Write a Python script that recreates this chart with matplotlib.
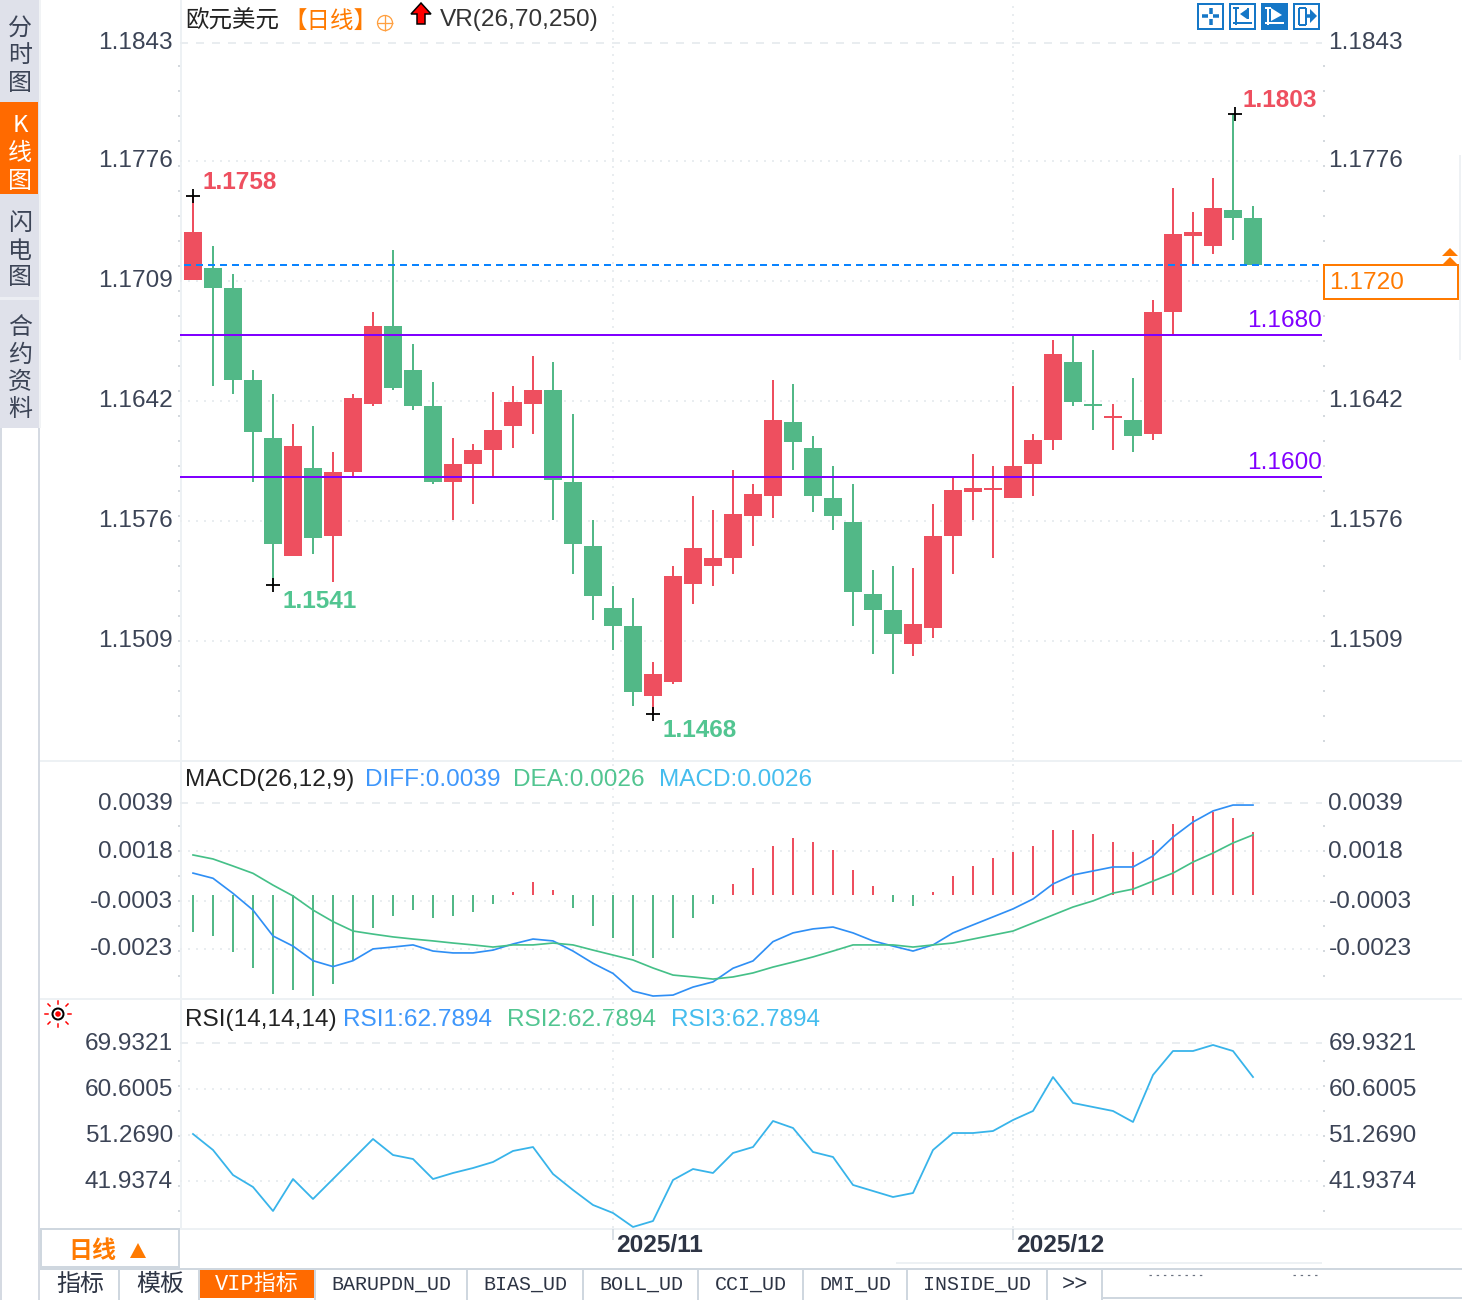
import matplotlib
matplotlib.use("Agg")
import matplotlib.pyplot as plt
from matplotlib.patches import Rectangle, Circle, Polygon
from matplotlib.transforms import ScaledTranslation

# ---------- data ----------
opens = [1.17106,1.17173,1.17061,1.16547,1.16223,1.15564,1.16055,1.15676,1.16033,1.16413,1.16849,1.16603,1.16402,1.15977,
         1.16077,1.16156,1.16290,1.16413,1.16491,1.15977,1.15620,1.15273,1.15173,1.14782,1.14860,1.15408,1.15508,1.15553,
         1.15788,1.15899,1.16312,1.16167,1.15888,1.15754,1.15352,1.15262,1.15072,1.15161,1.15676,1.15922,1.15933,1.15888,
         1.16077,1.16212,1.16648,1.16413,1.16335,1.16323,1.16245,1.16927,1.17352,1.17296,1.17497,1.17452]
closes = [1.17374,1.17061,1.16547,1.16256,1.15631,1.16178,1.15665,1.16033,1.16446,1.16849,1.16502,1.16402,1.15977,1.16077,
          1.16156,1.16268,1.16424,1.16491,1.15988,1.15631,1.15341,1.15173,1.14804,1.14905,1.15452,1.15609,1.15553,1.15799,
          1.15911,1.16323,1.16200,1.15899,1.15788,1.15363,1.15262,1.15128,1.15184,1.15676,1.15933,1.15944,1.15944,1.16066,
          1.16212,1.16692,1.16424,1.16402,1.16346,1.16234,1.16927,1.17363,1.17374,1.17508,1.17452,1.17190]
highs = [1.17575,1.17296,1.17140,1.16603,1.16469,1.16301,1.16290,1.16144,1.16469,1.16927,1.17274,1.16748,1.16536,1.16223,
         1.16189,1.16480,1.16514,1.16681,1.16648,1.16357,1.15765,1.15397,1.15330,1.14972,1.15508,1.15899,1.15821,1.16044,
         1.15966,1.16547,1.16525,1.16234,1.16066,1.15966,1.15486,1.15508,1.15497,1.15855,1.16005,1.16133,1.16066,1.16514,
         1.16245,1.16771,1.16793,1.16715,1.16413,1.16558,1.16994,1.17620,1.17486,1.17676,1.18033,1.17520]
lows = [1.17106,1.16514,1.16469,1.15977,1.15402,1.15564,1.15575,1.15419,1.16010,1.16402,1.16491,1.16379,1.15966,1.15765,
        1.15855,1.16005,1.16167,1.16245,1.15765,1.15464,1.15206,1.15039,1.14725,1.14681,1.14849,1.15296,1.15397,1.15464,
        1.15620,1.15776,1.16044,1.15810,1.15709,1.15173,1.15016,1.14905,1.15005,1.15106,1.15464,1.15765,1.15553,1.15888,
        1.15899,1.16156,1.16402,1.16268,1.16156,1.16144,1.16212,1.16804,1.17190,1.17251,1.17329,1.17190]
macd = [-0.00157,-0.00174,-0.00242,-0.00310,-0.00420,-0.00403,-0.00429,-0.00378,-0.00276,-0.00140,-0.00089,-0.00064,-0.00098,
        -0.00089,-0.00072,-0.00038,0.00013,0.00055,0.00021,-0.00055,-0.00132,-0.00183,-0.00259,-0.00268,-0.00183,-0.00098,
        -0.00038,0.00047,0.00115,0.00208,0.00242,0.00225,0.00191,0.00106,0.00038,-0.00030,-0.00047,0.00013,0.00081,0.00123,
        0.00157,0.00183,0.00208,0.00276,0.00276,0.00259,0.00225,0.00183,0.00234,0.00302,0.00336,0.00353,0.00327,0.00268]
diff = [0.00093,0.00071,0.00007,-0.00064,-0.00174,-0.00217,-0.00279,-0.00304,-0.00279,-0.00229,-0.00221,-0.00212,-0.00238,
        -0.00246,-0.00246,-0.00234,-0.00208,-0.00187,-0.00195,-0.00238,-0.00290,-0.00333,-0.00408,-0.00429,-0.00425,-0.00391,
        -0.00369,-0.00311,-0.00280,-0.00198,-0.00161,-0.00144,-0.00136,-0.00161,-0.00195,-0.00217,-0.00238,-0.00212,-0.00161,
        -0.00127,-0.00093,-0.00059,-0.00017,0.00047,0.00085,0.00102,0.00119,0.00119,0.00166,0.00246,0.00310,0.00357,0.00382,0.00382]
dea = [0.00170,0.00153,0.00123,0.00092,0.00042,-0.00004,-0.00064,-0.00113,-0.00153,-0.00166,-0.00178,-0.00187,-0.00195,-0.00204,
       -0.00212,-0.00221,-0.00212,-0.00212,-0.00204,-0.00212,-0.00234,-0.00255,-0.00276,-0.00310,-0.00340,-0.00348,-0.00357,
       -0.00348,-0.00331,-0.00306,-0.00285,-0.00263,-0.00238,-0.00212,-0.00212,-0.00212,-0.00221,-0.00212,-0.00204,-0.00187,
       -0.00170,-0.00153,-0.00119,-0.00085,-0.00051,-0.00025,0.00008,0.00025,0.00059,0.00093,0.00140,0.00178,0.00221,0.00255]
rsi = [51.47,48.23,43.15,40.72,35.85,42.34,38.29,42.34,46.40,50.46,47.21,46.40,42.34,43.56,44.57,45.79,48.03,48.83,43.36,40.11,
       37.07,35.45,32.61,33.82,42.14,44.37,43.56,47.62,48.83,54.11,52.69,47.82,46.81,41.13,39.91,38.69,39.50,48.23,51.67,51.67,
       52.08,54.31,56.14,63.03,57.76,56.95,56.14,53.91,63.44,68.31,68.31,69.53,68.31,63.03]
price_ticks = [1.18432,1.17772,1.1710,1.1643,1.1576,1.1509]
price_labels = ["1.1843","1.1776","1.1709","1.1642","1.1576","1.1509"]
macd_ticks = [0.0039,0.00186,-0.00026,-0.00229]
macd_labels = ["0.0039","0.0018","-0.0003","-0.0023"]
rsi_ticks = [69.9321,60.6005,51.2690,41.9374]
rsi_labels = ["69.9321","60.6005","51.2690","41.9374"]
levels = [1.1680,1.16004]
last_price = 1.1719
month_idx = [21,41]
month_labels = ["2025/11","2025/12"]
extremes = [(0,1.17575,"1.1758",0),(4,1.15402,"1.1541",1),(23,1.14681,"1.1468",1),(52,1.18033,"1.1803",0)]
tabs = [("指标",80),("模板",160),("BARUPDN_UD",391),("BIAS_UD",525),("BOLL_UD",641),("CCI_UD",751),("DMI_UD",855),("INSIDE_UD",977)]

# ---------- style ----------
W,H = 1462,1300
px = 0.72
SANS = ['Liberation Sans','Noto Sans CJK SC','DejaVu Sans']
CJK = ['Noto Sans CJK SC','DejaVu Sans']
MONO = ['Liberation Mono','Noto Sans CJK SC']
plt.rcParams['font.family'] = SANS
RED,GREEN = '#ee4f5f','#52b887'
GRID,SEP,LABEL = '#e9edf0','#cfd7df','#3c4456'
ORANGE,PURPLE = '#ff7a00','#8000ff'
BLUE,LGREEN,LBLUE = '#3f97fb','#52c591','#45bdee'
FS = 24.4*px

fig = plt.figure(figsize=(W/100,H/100),dpi=100,facecolor='white')
bg = fig.add_axes([0,0,1,1],zorder=0)
bg.set_xlim(0,W); bg.set_ylim(H,0); bg.axis('off')
top = fig.add_axes([0,0,1,1],zorder=5)
top.set_xlim(0,W); top.set_ylim(H,0); top.axis('off'); top.patch.set_alpha(0)

def rect(x0,y0,x1,y1,fc='none',ec='none',lw=0,z=1):
    bg.add_patch(Rectangle((x0,y0),x1-x0,y1-y0,fc=fc,ec=ec,lw=lw*px,zorder=z))
def T(x,y,s,c=LABEL,ha='left',fs=FS,fam=SANS,w='normal',z=5,a=None):
    (a or bg).text(x,y+2,s,color=c,ha=ha,va='center',fontsize=fs,family=fam,fontweight=w,zorder=z)
def L(xs,ys,c,lw=2,**k):
    bg.plot(xs,ys,color=c,lw=lw*px,solid_capstyle='butt',**k)

def panel(y0,y1,ylim):
    a = fig.add_axes([180/W,1-y1/H,(1322-180)/W,(y1-y0)/H],zorder=2)
    a.patch.set_alpha(0)
    a.set_xlim((180-193)/20,(1322-193)/20)
    a.set_ylim(*ylim)
    for s in a.spines.values(): s.set_visible(False)
    a.set_xticks(month_idx); a.set_xticklabels([])
    a.tick_params(axis='x',length=0)
    a.tick_params(axis='y',length=0,left=False,right=False,labelleft=True,labelright=True,
                  labelsize=FS,labelcolor=LABEL,pad=5)
    a.grid(True,color=GRID,lw=2*px,ls=(0,(1,3)))
    a.set_axisbelow(True)
    return a

def finish_y(a,ticks,labels):
    a.set_yticks(ticks); a.set_yticklabels(labels)
    a.get_ygridlines()[0].set_linestyle((0,(4,4)))
    up = ScaledTranslation(0,2/100,fig.dpi_scale_trans)
    upl = ScaledTranslation(-0.5/100,2/100,fig.dpi_scale_trans)
    for t in a.yaxis.get_major_ticks():
        t.label1.set_transform(t.label1.get_transform()+up)
        t.label2.set_transform(t.label2.get_transform()+upl)

# ---------- main candlesticks ----------
ax = panel(0,760,(1.186698-760/17900,1.186698))
finish_y(ax,price_ticks,price_labels)
for i,(o,c,h,l) in enumerate(zip(opens,closes,highs,lows)):
    col = RED if c>=o else GREEN
    ax.vlines(i,l,h,color=col,lw=2*px,zorder=3)
    ax.bar(i,abs(c-o),bottom=min(o,c),width=0.9,color=col,lw=0,zorder=3)
for lv in levels:
    ax.axhline(lv,color=PURPLE,lw=2*px,zorder=4)
    ax.annotate(f"{lv:.4f}",(1,lv),xycoords=('axes fraction','data'),xytext=(0,14*px),textcoords='offset points',
                ha='right',va='center',color=PURPLE,fontsize=FS)
ax.plot([(184-193)/20,(1322-193)/20],[last_price,last_price],color='#0a84ff',lw=2*px,ls=(0,(3.5,2.5)),zorder=4)
for i,p,s,isLow in extremes:
    ax.plot(i+(0.08 if i==52 else 0),p,marker='+',ms=14*px,mew=1.3,color='black',zorder=5)
    dy = -16.5 if isLow else 13
    ax.annotate(s,(i,p),xytext=(10*px,dy*px),textcoords='offset points',ha='left',va='center',
                color=LGREEN if isLow else RED,fontsize=FS,fontweight='bold')

# ---------- MACD ----------
ax2 = panel(762,998,((895-998)/23548,(895-762)/23548))
finish_y(ax2,macd_ticks,macd_labels)
for i,v in enumerate(macd):
    ax2.vlines(i,0,v,color=RED if v>0 else GREEN,lw=2*px,zorder=3)
ax2.plot(range(len(diff)),diff,color='#2f8ff5',lw=1.7*px,zorder=4)
ax2.plot(range(len(dea)),dea,color='#45c088',lw=1.7*px,zorder=4)

# ---------- RSI ----------
ax3 = panel(1000,1228,(51.269+(1135-1228)*0.20286,51.269+(1135-1000)*0.20286))
finish_y(ax3,rsi_ticks,rsi_labels)
ax3.plot(range(len(rsi)),rsi,color='#38b4ea',lw=1.8*px,zorder=4)

# ---------- headers ----------
T(185,19,"欧元美元",c='#222222',fam=CJK,fs=23.5*px)
T(283,19,"【日线】",c=ORANGE,fam=CJK,fs=23.5*px)
T(440,18,"VR(26,70,250)",c='#333333')
T(185,778,"MACD(26,12,9)",c='#222222')
T(365,778,"DIFF:0.0039",c=BLUE); T(513,778,"DEA:0.0026",c=LGREEN); T(659,778,"MACD:0.0026",c=LBLUE)
T(185,1018,"RSI(14,14,14)",c='#222222')
T(343,1018,"RSI1:62.7894",c=BLUE); T(507,1018,"RSI2:62.7894",c=LGREEN); T(671,1018,"RSI3:62.7894",c=LBLUE)
bg.add_patch(Circle((385,23),7.5,fc='none',ec='#ffa040',lw=1.3*px,zorder=5))
L([377,393],[23,23],'#ffa040',1.3); L([385,385],[15,31],'#ffa040',1.3)
bg.add_patch(Polygon([(421,3),(431,14),(425,14),(425,24),(417,24),(417,14),(411,14)],fc='red',ec='black',lw=1.5*px,zorder=5))

# buttons
BC = '#1577c7'
for k,x in enumerate([1197,1229,1261,1293]):
    filled = k==2
    rect(x+1,4,x+26,29,fc=BC if filled else 'white',ec=BC,lw=2,z=5)
    ic = 'white' if filled else BC
    def seg(a,b,c2,d,lw=2):
        bg.plot([a,c2],[b,d],color=ic,lw=lw*px,zorder=6,solid_capstyle='butt')
    def tri(pts):
        bg.add_patch(Polygon(pts,fc=ic,ec='none',zorder=6))
    if k==0:
        for a,b,c2,d in [(x+5,16,x+11,16),(x+16,16,x+22,16),(x+13.5,8,x+13.5,14),(x+13.5,19,x+13.5,25)]:
            seg(a,b,c2,d,3.5)
    elif k==1:
        seg(x+7,7,x+7,25); seg(x+4,8,x+10,8); seg(x+4,23,x+23,23)
        seg(x+19,8,x+19,19); tri([(x+18,9),(x+11,14),(x+18,19)])
    elif k==2:
        seg(x+7,7,x+7,25); seg(x+4,8,x+10,8); seg(x+4,23,x+23,23)
        tri([(x+10,8),(x+21,15),(x+10,21)])
    else:
        seg(x+6,8,x+6,25); seg(x+6,8,x+13,8); seg(x+6,25,x+13,25)
        seg(x+13,8,x+13,25); seg(x+13,16,x+18,16,3.5); tri([(x+17,9),(x+24,16),(x+17,23)])

# separators and axis dots
for y in (760.5,998.5,1229):
    L([40,W],[y,y],'#edf1f4',2,zorder=1)
L([180.5,180.5],[0,1229],'#edf1f4',2,zorder=1)
for x in (179,1324):
    for y0,y1 in ((65,760),(825,998),(1060,1228)):
        bg.plot([x,x],[y0,y1],color='#d4d9de',lw=2*px,ls=(0,(1,11.5)),zorder=1)
for i,s in zip(month_idx,month_labels):
    x = 193+20*i
    L([x,x],[1229,1240],SEP,1.5)
    T(x+3,1244,s,c='#2d3444',w='bold')

# current price box (above the chart's own right-hand labels)
top.add_patch(Rectangle((1323.5,265),134.5,33.5,fc='white',ec=ORANGE,lw=2*px))
T(1329,281,"1.1720",c=ORANGE,a=top)
for y in (248,257):
    top.add_patch(Polygon([(1442,y+8),(1450,y),(1458,y+8)],fc=ORANGE,ec='none'))
rect(1458.5,155,1461,360,fc='#eef1f4',z=1)

# left sidebar
rect(0,0,39,428,fc='#dfe1ea')
rect(0,102,38,194,fc='#ff6a00',z=2)
rect(0,297,39,300,fc='#eceef3',z=2)
rect(0,428,2,H,fc='#d5dae2'); rect(38,428,40,H,fc='#d5dae2')
rect(39,0,41,428,fc='#f1f3f5')
for s,ys,c in [("分时图",(27,55,82),'#3c4456'),("K线图",(125,152,180),'white'),("闪电图",(222,250,277),'#3c4456'),("合约资料",(327,354,381,409),'#3c4456')]:
    for ch,y in zip(s,ys):
        T(20,y-1,ch,c=c,ha='center',fam=CJK,fs=24*px)

# sun icon
bg.add_patch(Circle((58,1014),5.5,fc='white',ec='black',lw=2*px,zorder=5))
bg.add_patch(Circle((58,1014),2.8,fc='red',ec='none',zorder=6))
for a,b,c2,d in [(58,1001,58,1004),(58,1024,58,1027),(45,1014,48,1014),(68,1014,71,1014),(48,1004,50,1006),(66,1022,68,1024),(48,1024,50,1022),(66,1006,68,1004)]:
    bg.plot([a,c2],[b,d],color='red',lw=1.5*px,zorder=5)

# bottom
rect(41,1229,179,1267,fc='white',ec=SEP,lw=2,z=3)
T(68,1249,"日线",c=ORANGE,fam=CJK,fs=24*px,w='bold')
bg.add_patch(Polygon([(130,1258),(138,1243),(146,1258)],fc=ORANGE,ec='none',zorder=5))
L([40,W],[1269,1269],SEP,2,zorder=4)
L([896,1322],[1263,1263],'#edf1f4',2,zorder=4)
for x in (118.5,199,315,467,583,698,803,907,1047,1102):
    L([x,x],[1269,H],SEP,2,zorder=4)
L([1102,W],[1298,1298],SEP,2,zorder=4)
rect(200,1270,314,1298,fc='#ff6a00',z=3)
T(257,1282,"VIP指标",c='white',ha='center',fam=MONO,fs=22*px)
for s,x in tabs:
    cjk = s in ("指标","模板")
    T(x,1282,s,c='#2d3444',ha='center',fam=CJK if cjk else MONO,fs=(24 if cjk else 20)*px)
T(1075,1282,">>",c='#2d3444',ha='center',fam=MONO,fs=22*px)
for a,b in ((1149,1205),(1293,1317)):
    bg.plot([a,b],[1275,1275],color='#6b7280',lw=1.2*px,ls=(0,(2,4)),zorder=4)

fig.savefig('out.png',dpi=100)
